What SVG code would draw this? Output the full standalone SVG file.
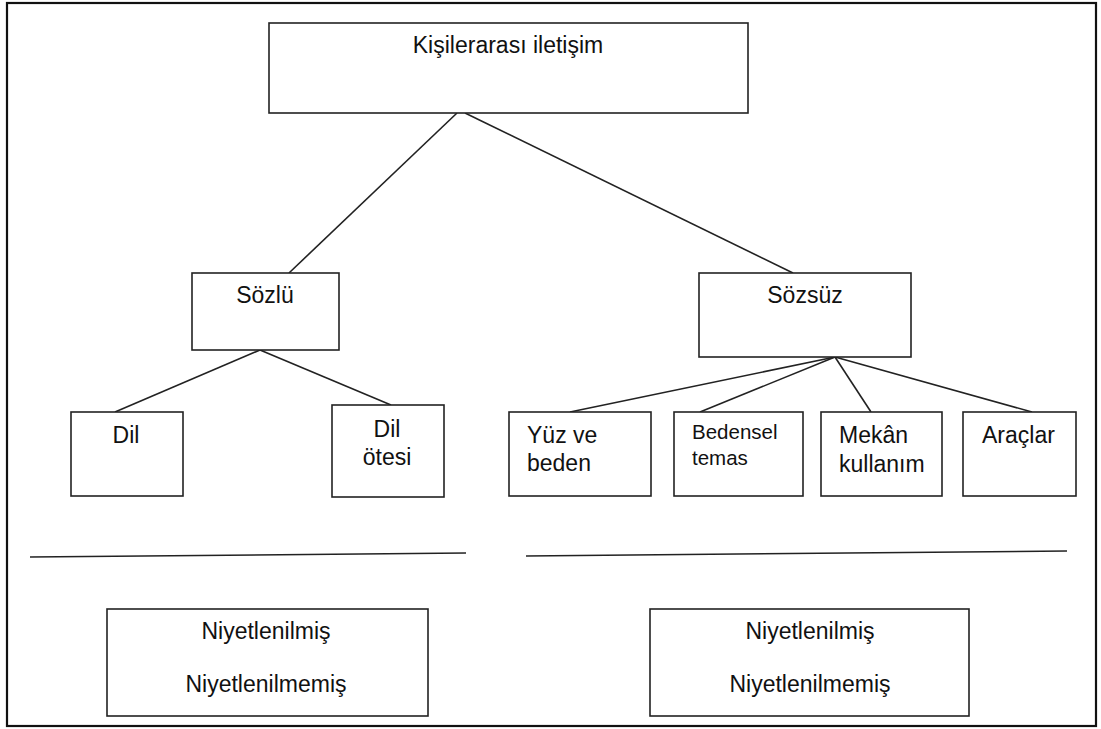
<svg xmlns="http://www.w3.org/2000/svg" width="1101" height="729" viewBox="0 0 1101 729">
<style>
.box{fill:#fff;stroke:#222;stroke-width:1.6}
.t{font-family:"Liberation Sans",Arial,sans-serif;font-size:23px;fill:#111}
.c{text-anchor:middle}
.s{font-size:20.5px}
.ln{stroke:#222;stroke-width:1.6;fill:none}
</style>
<rect x="0" y="0" width="1101" height="729" fill="#fff"/>
<rect x="7" y="3" width="1089" height="723" fill="none" stroke="#111" stroke-width="2.2"/>
<g id="connectors">
<line class="ln" x1="457" y1="113" x2="289" y2="273"/>
<line class="ln" x1="465" y1="113" x2="793" y2="273"/>
<line class="ln" x1="260" y1="350" x2="115" y2="412"/>
<line class="ln" x1="260" y1="350" x2="391" y2="405"/>
<line class="ln" x1="835" y1="357" x2="570" y2="412"/>
<line class="ln" x1="835" y1="357" x2="700" y2="412"/>
<line class="ln" x1="835" y1="357" x2="871" y2="412"/>
<line class="ln" x1="835" y1="357" x2="1032" y2="412"/>
</g>
<g id="separators">
<line class="ln" x1="30" y1="557" x2="466" y2="553"/>
<line class="ln" x1="526" y1="556" x2="1067" y2="551"/>
</g>
<g id="n-kisilerarasi">
<rect class="box" x="269" y="23" width="479" height="90"/>
<text class="t c" x="508" y="53">Kişilerarası iletişim</text>
</g>
<g id="n-sozlu">
<rect class="box" x="192" y="273" width="147" height="77"/>
<text class="t c" x="265" y="303">Sözlü</text>
</g>
<g id="n-sozsuz">
<rect class="box" x="699" y="273" width="212" height="84"/>
<text class="t c" x="805" y="303">Sözsüz</text>
</g>
<g id="n-dil">
<rect class="box" x="71" y="412" width="112" height="84"/>
<text class="t c" x="126" y="443">Dil</text>
</g>
<g id="n-dilotesi">
<rect class="box" x="332" y="405" width="112" height="92"/>
<text class="t c" x="387" y="437">Dil</text>
<text class="t c" x="387" y="465">ötesi</text>
</g>
<g id="n-yuz">
<rect class="box" x="509" y="412" width="142" height="84"/>
<text class="t" x="527" y="443">Yüz ve</text>
<text class="t" x="527" y="471">beden</text>
</g>
<g id="n-bedensel">
<rect class="box" x="674" y="412" width="129" height="84"/>
<text class="t s" x="692" y="439">Bedensel</text>
<text class="t s" x="692" y="465">temas</text>
</g>
<g id="n-mekan">
<rect class="box" x="821" y="412" width="121" height="84"/>
<text class="t" x="839" y="443">Mekân</text>
<text class="t" x="839" y="472">kullanım</text>
</g>
<g id="n-araclar">
<rect class="box" x="963" y="412" width="113" height="84"/>
<text class="t" x="982" y="443">Araçlar</text>
</g>
<g id="n-niyet-left">
<rect class="box" x="107" y="609" width="321" height="107"/>
<text class="t c" x="266" y="639">Niyetlenilmiş</text>
<text class="t c" x="266" y="692">Niyetlenilmemiş</text>
</g>
<g id="n-niyet-right">
<rect class="box" x="650" y="609" width="319" height="107"/>
<text class="t c" x="810" y="639">Niyetlenilmiş</text>
<text class="t c" x="810" y="692">Niyetlenilmemiş</text>
</g>
</svg>
